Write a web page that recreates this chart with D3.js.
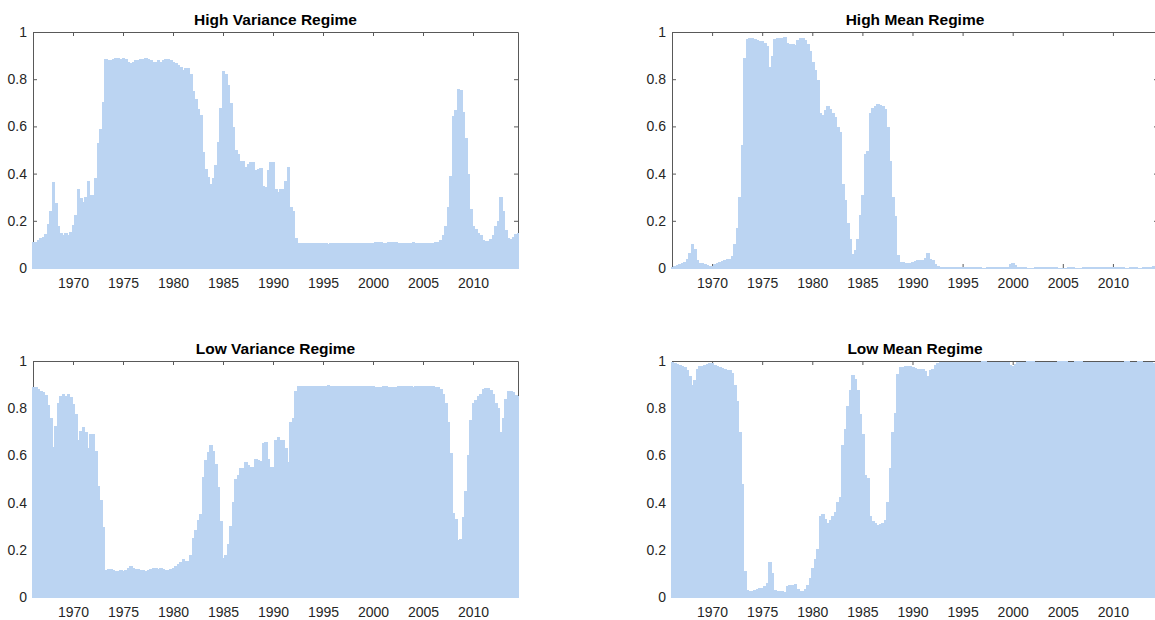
<!DOCTYPE html>
<html>
<head>
<meta charset="utf-8">
<script src="https://cdn.jsdelivr.net/npm/d3@7"></script>
<style>
  body { margin: 0; background: #fff; }
</style>
</head>
<body>
<div class="chart"></div>
<script>
var startYear = 1966,
  endYear = 2014.5,
  quarter = 0.25,
  xTicks = [1970, 1975, 1980, 1985, 1990, 1995, 2000, 2005, 2010],
  yTicks = [0, 0.2, 0.4, 0.6, 0.8, 1],
  titles = ['High Variance Regime', 'High Mean Regime', 'Low Variance Regime', 'Low Mean Regime'];

// quarterly smoothed probabilities, 1966Q1 .. 2014Q3, two years per line
var highVariance = [
  0.109, 0.112, 0.118, 0.126, 0.13, 0.145, 0.186, 0.243,
  0.366, 0.275, 0.179, 0.148, 0.14, 0.148, 0.14, 0.152,
  0.183, 0.224, 0.333, 0.295, 0.28, 0.30, 0.37, 0.31,
  0.31, 0.38, 0.53, 0.59, 0.705, 0.885, 0.88, 0.88,
  0.885, 0.89, 0.89, 0.885, 0.89, 0.885, 0.875, 0.87,
  0.875, 0.88, 0.88, 0.885, 0.885, 0.89, 0.885, 0.88,
  0.875, 0.875, 0.88, 0.875, 0.88, 0.885, 0.885, 0.88,
  0.875, 0.868, 0.861, 0.852, 0.84, 0.846, 0.846, 0.824,
  0.75, 0.715, 0.672, 0.648, 0.492, 0.421, 0.386, 0.356,
  0.382, 0.435, 0.533, 0.68, 0.833, 0.824, 0.776, 0.70,
  0.597, 0.502, 0.485, 0.455, 0.452, 0.427, 0.44, 0.448,
  0.448, 0.416, 0.421, 0.424, 0.346, 0.343, 0.417, 0.45,
  0.45, 0.336, 0.32, 0.335, 0.335, 0.367, 0.428, 0.258,
  0.24, 0.129, 0.108, 0.107, 0.106, 0.106, 0.107, 0.106,
  0.105, 0.105, 0.106, 0.107, 0.105, 0.104, 0.103, 0.104,
  0.106, 0.107, 0.106, 0.105, 0.104, 0.104, 0.106, 0.107,
  0.107, 0.106, 0.107, 0.108, 0.108, 0.107, 0.106, 0.106,
  0.108, 0.11, 0.11, 0.109, 0.107, 0.107, 0.109, 0.112,
  0.111, 0.109, 0.108, 0.107, 0.108, 0.108, 0.107, 0.108,
  0.109, 0.108, 0.106, 0.105, 0.105, 0.106, 0.107, 0.108,
  0.108, 0.109, 0.11, 0.118, 0.14, 0.18, 0.26, 0.39,
  0.645, 0.67, 0.76, 0.755, 0.66, 0.55, 0.40, 0.25,
  0.18, 0.165, 0.15, 0.14, 0.12, 0.113, 0.113, 0.123,
  0.14, 0.18, 0.2, 0.30, 0.24, 0.16, 0.127, 0.125,
  0.13, 0.145, 0.15
];

var lowVariance = [
  0.891, 0.888, 0.882, 0.874, 0.87, 0.855, 0.814, 0.757,
  0.634, 0.725, 0.821, 0.852, 0.86, 0.852, 0.86, 0.848,
  0.817, 0.776, 0.667, 0.705, 0.72, 0.70, 0.63, 0.69,
  0.69, 0.62, 0.47, 0.41, 0.295, 0.115, 0.12, 0.12,
  0.115, 0.11, 0.11, 0.115, 0.11, 0.115, 0.125, 0.13,
  0.125, 0.12, 0.12, 0.115, 0.115, 0.11, 0.115, 0.12,
  0.125, 0.125, 0.12, 0.125, 0.12, 0.115, 0.115, 0.12,
  0.125, 0.132, 0.139, 0.148, 0.16, 0.154, 0.154, 0.176,
  0.25, 0.285, 0.328, 0.352, 0.508, 0.579, 0.614, 0.644,
  0.618, 0.565, 0.467, 0.32, 0.167, 0.176, 0.224, 0.30,
  0.403, 0.498, 0.515, 0.545, 0.548, 0.573, 0.56, 0.552,
  0.552, 0.584, 0.579, 0.576, 0.654, 0.657, 0.583, 0.55,
  0.55, 0.664, 0.68, 0.665, 0.665, 0.633, 0.572, 0.742,
  0.76, 0.871, 0.892, 0.893, 0.894, 0.894, 0.893, 0.894,
  0.895, 0.895, 0.894, 0.893, 0.895, 0.896, 0.897, 0.896,
  0.894, 0.893, 0.894, 0.895, 0.896, 0.896, 0.894, 0.893,
  0.893, 0.894, 0.893, 0.892, 0.892, 0.893, 0.894, 0.894,
  0.892, 0.89, 0.89, 0.891, 0.893, 0.893, 0.891, 0.888,
  0.889, 0.891, 0.892, 0.893, 0.892, 0.892, 0.893, 0.892,
  0.891, 0.892, 0.894, 0.895, 0.895, 0.894, 0.893, 0.892,
  0.892, 0.891, 0.89, 0.882, 0.86, 0.82, 0.74, 0.61,
  0.355, 0.33, 0.24, 0.245, 0.34, 0.45, 0.60, 0.75,
  0.82, 0.835, 0.85, 0.86, 0.88, 0.887, 0.887, 0.877,
  0.86, 0.82, 0.80, 0.70, 0.76, 0.84, 0.873, 0.875,
  0.87, 0.855, 0.85
];

var highMean = [
  0.003, 0.008, 0.012, 0.016, 0.02, 0.027, 0.04, 0.065,
  0.10, 0.08, 0.035, 0.022, 0.02, 0.018, 0.012, 0.01,
  0.008, 0.015, 0.02, 0.025, 0.03, 0.035, 0.04, 0.038,
  0.05, 0.10, 0.17, 0.30, 0.52, 0.89, 0.97, 0.975,
  0.975, 0.97, 0.965, 0.96, 0.96, 0.955, 0.94, 0.853,
  0.90, 0.97, 0.975, 0.975, 0.975, 0.98, 0.955, 0.95,
  0.95, 0.945, 0.965, 0.975, 0.975, 0.965, 0.95, 0.92,
  0.875, 0.84, 0.796, 0.655, 0.648, 0.67, 0.686, 0.672,
  0.655, 0.64, 0.598, 0.577, 0.358, 0.287, 0.19, 0.124,
  0.06, 0.075, 0.124, 0.223, 0.308, 0.485, 0.497, 0.655,
  0.676, 0.686, 0.694, 0.69, 0.686, 0.672, 0.598, 0.454,
  0.30, 0.22, 0.055, 0.027, 0.024, 0.022, 0.022, 0.023,
  0.025, 0.028, 0.032, 0.034, 0.036, 0.041, 0.062, 0.04,
  0.036, 0.015, 0.008, 0.005, 0.004, 0.004, 0.005, 0.006,
  0.006, 0.005, 0.004, 0.003, 0.003, 0.004, 0.005, 0.005,
  0.004, 0.003, 0.003, 0.003, 0.002, 0.002, 0.003, 0.003,
  0.004, 0.004, 0.003, 0.003, 0.003, 0.004, 0.006, 0.015,
  0.02, 0.012, 0.005, 0.004, 0.003, 0.003, 0.002, 0.002,
  0.002, 0.003, 0.003, 0.004, 0.004, 0.006, 0.005, 0.004,
  0.003, 0.003, 0.002, 0.002, 0.002, 0.002, 0.003, 0.003,
  0.003, 0.002, 0.002, 0.002, 0.003, 0.003, 0.003, 0.004,
  0.004, 0.003, 0.003, 0.004, 0.005, 0.004, 0.003, 0.003,
  0.003, 0.003, 0.004, 0.004, 0.003, 0.002, 0.002, 0.003,
  0.003, 0.003, 0.002, 0.002, 0.003, 0.004, 0.005, 0.006,
  0.007, 0.009, 0.011
];

var lowMean = [
  0.997, 0.992, 0.988, 0.984, 0.98, 0.973, 0.96, 0.935,
  0.90, 0.92, 0.965, 0.978, 0.98, 0.982, 0.988, 0.99,
  0.992, 0.985, 0.98, 0.975, 0.97, 0.965, 0.96, 0.962,
  0.95, 0.90, 0.83, 0.70, 0.48, 0.11, 0.03, 0.025,
  0.025, 0.03, 0.035, 0.04, 0.04, 0.045, 0.06, 0.147,
  0.10, 0.03, 0.025, 0.025, 0.025, 0.02, 0.045, 0.05,
  0.05, 0.055, 0.035, 0.025, 0.025, 0.035, 0.05, 0.08,
  0.125, 0.16, 0.204, 0.345, 0.352, 0.33, 0.314, 0.328,
  0.345, 0.36, 0.402, 0.423, 0.642, 0.713, 0.81, 0.876,
  0.94, 0.925, 0.876, 0.777, 0.692, 0.515, 0.503, 0.345,
  0.324, 0.314, 0.306, 0.31, 0.314, 0.328, 0.402, 0.546,
  0.70, 0.78, 0.945, 0.973, 0.976, 0.978, 0.978, 0.977,
  0.975, 0.972, 0.968, 0.966, 0.964, 0.959, 0.938, 0.96,
  0.964, 0.985, 0.992, 0.995, 0.996, 0.996, 0.995, 0.994,
  0.994, 0.995, 0.996, 0.997, 0.997, 0.996, 0.995, 0.995,
  0.996, 0.997, 0.997, 0.997, 0.998, 0.998, 0.997, 0.997,
  0.996, 0.996, 0.997, 0.997, 0.997, 0.996, 0.994, 0.985,
  0.98, 0.988, 0.995, 0.996, 0.997, 0.997, 0.998, 0.998,
  0.998, 0.997, 0.997, 0.996, 0.996, 0.994, 0.995, 0.996,
  0.997, 0.997, 0.998, 0.998, 0.998, 0.998, 0.997, 0.997,
  0.997, 0.998, 0.998, 0.998, 0.997, 0.997, 0.997, 0.996,
  0.996, 0.997, 0.997, 0.996, 0.995, 0.996, 0.997, 0.997,
  0.997, 0.997, 0.996, 0.996, 0.997, 0.998, 0.998, 0.997,
  0.997, 0.997, 0.998, 0.998, 0.997, 0.996, 0.995, 0.994,
  0.993, 0.991, 0.989
];

var svgW = 1155,
  svgH = 620,
  colLeft = [33, 672],
  colWidth = [485, 486],
  rowTop = [32, 361],
  rowHeight = 236,
  barColor = '#bbd4f2',
  lineColor = '#595959',
  textColor = '#262626',
  fontFamily = '"Liberation Sans", Arial, Helvetica, sans-serif';

var panels = [
  { title: titles[0], values: highVariance, col: 0, row: 0 },
  { title: titles[1], values: highMean, col: 1, row: 0 },
  { title: titles[2], values: lowVariance, col: 0, row: 1 },
  { title: titles[3], values: lowMean, col: 1, row: 1 }
];

var svg = d3.select('.chart')
  .append('svg')
  .attr('width', svgW)
  .attr('height', svgH)
  .style('background', '#fff');

var defs = svg.append('defs');

function styleAxis(g) {
  g.attr('font-family', fontFamily)
    .attr('font-size', 14);
  g.selectAll('.domain, .tick line')
    .attr('stroke', lineColor);
  g.selectAll('text')
    .attr('fill', textColor);
}

function drawPanel(p, i) {
  var w = colWidth[p.col],
    h = rowHeight;

  var x = d3.scaleLinear()
    .domain([startYear, endYear])
    .range([0, w]);
  var y = d3.scaleLinear()
    .domain([0, 1])
    .range([h, 0]);

  var g = svg.append('g')
    .attr('transform', `translate(${colLeft[p.col]},${rowTop[p.row]})`);

  // box with inward ticks, labels only bottom and left
  g.append('g')
    .attr('transform', `translate(0,${h})`)
    .call(d3.axisBottom(x).tickValues(xTicks).tickFormat(d3.format('d'))
      .tickSize(-4).tickSizeOuter(0).tickPadding(10.5))
    .call(styleAxis);
  g.append('g')
    .call(d3.axisTop(x).tickValues(xTicks).tickFormat(() => '')
      .tickSize(-4).tickSizeOuter(0))
    .call(styleAxis);
  g.append('g')
    .call(d3.axisLeft(y).tickValues(yTicks).tickFormat(d3.format('~g'))
      .tickSize(-4).tickSizeOuter(0).tickPadding(6))
    .call(styleAxis);
  g.append('g')
    .attr('transform', `translate(${w},0)`)
    .call(d3.axisRight(y).tickValues(yTicks).tickFormat(() => '')
      .tickSize(-4).tickSizeOuter(0))
    .call(styleAxis);

  defs.append('clipPath')
    .attr('id', 'clip' + i)
    .append('rect')
    .attr('x', -1)
    .attr('y', -1)
    .attr('width', w + 2)
    .attr('height', h + 2);

  g.append('g')
    .attr('clip-path', `url(#clip${i})`)
    .attr('shape-rendering', 'crispEdges')
    .selectAll('rect')
    .data(p.values)
    .enter()
    .append('rect')
    .attr('x', (d, k) => x(startYear + k * quarter - quarter / 2))
    .attr('width', (d, k) => x(startYear + k * quarter + quarter / 2) - x(startYear + k * quarter - quarter / 2) + 1)
    .attr('y', d => y(d))
    .attr('height', d => y(0) - y(d) + 1)
    .attr('fill', barColor);

  g.append('text')
    .attr('x', w / 2)
    .attr('y', -7)
    .attr('text-anchor', 'middle')
    .attr('font-family', fontFamily)
    .attr('font-size', 15.5)
    .attr('font-weight', 'bold')
    .attr('fill', '#000')
    .text(p.title);
}

panels.forEach(drawPanel);
</script>
</body>
</html>
